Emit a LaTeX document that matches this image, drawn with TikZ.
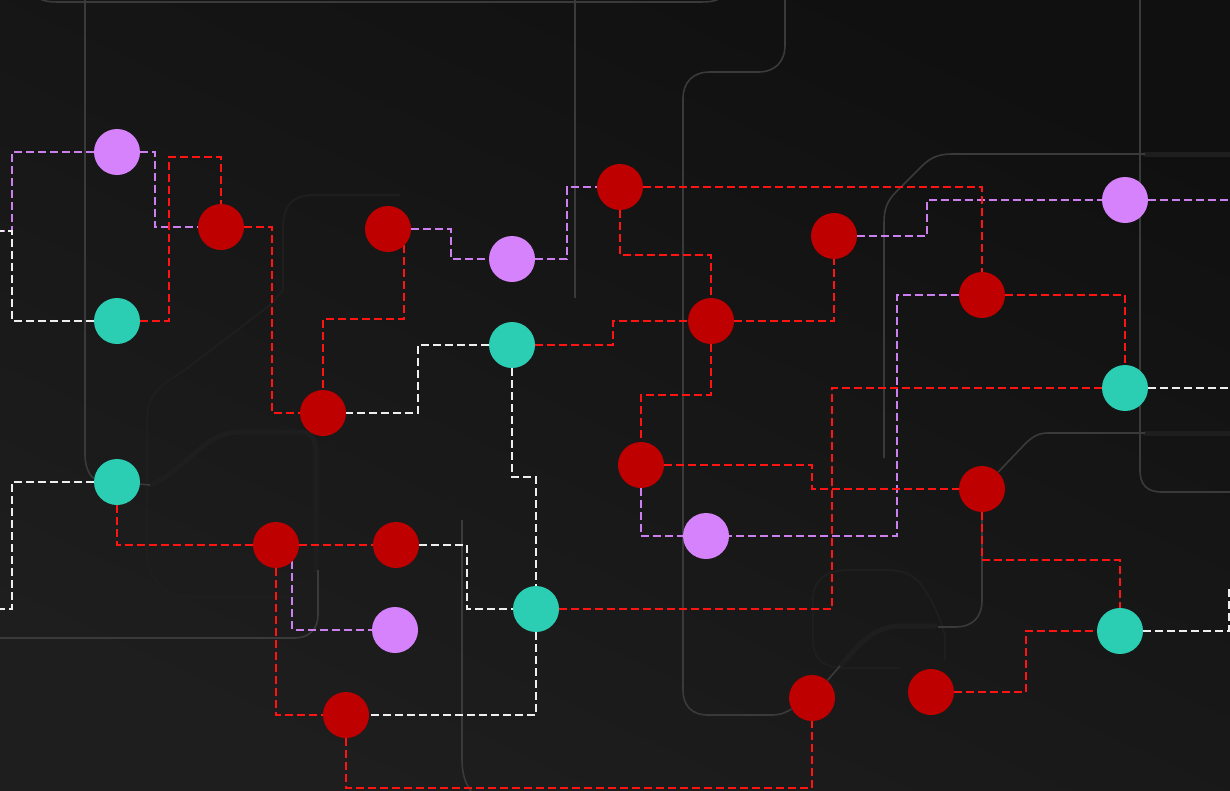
\documentclass[tikz,border=0pt]{standalone}
\usetikzlibrary{calc}
\pgfdeclarelayer{bg}
\pgfdeclarelayer{wires}
\pgfsetlayers{bg,wires,main}
\definecolor{nodered}{HTML}{BF0000}
\definecolor{nodeteal}{HTML}{2BCDB3}
\definecolor{nodepurp}{HTML}{D682FC}
\definecolor{linered}{HTML}{FF1414}
\definecolor{linepurp}{HTML}{CC80F0}
\definecolor{linewhite}{HTML}{EEEEEE}
\definecolor{wiregray}{HTML}{3A3A3A}
\definecolor{wirefaint}{HTML}{1E1E1E}
\definecolor{bgdark}{HTML}{101010}
\definecolor{bglight}{HTML}{1E1E1E}
\tikzset{
  dot/.style={circle, minimum size=46pt, inner sep=0pt, draw=none},
  rednode/.style={dot, fill=nodered},
  tealnode/.style={dot, fill=nodeteal},
  purpnode/.style={dot, fill=nodepurp},
  conn/.style={line width=2pt, dash pattern=on 8pt off 4pt, line join=miter},
  rl/.style={conn, draw=linered},
  pl/.style={conn, draw=linepurp},
  wl/.style={conn, draw=linewhite},
  wire/.style={draw=wiregray, line width=1.6pt},
  glow/.style={draw=wirefaint, line width=5pt, line cap=round},
  faint/.style={draw=wirefaint, line width=2pt}
}
\begin{document}
\begin{tikzpicture}[x=1pt,y=-1pt]
\useasboundingbox (0,0) rectangle (1230,790);
% nodes
\node[purpnode] (P1) at (117,152) {};
\node[rednode]  (R1) at (221,227) {};
\node[tealnode] (T1) at (117,321) {};
\node[rednode]  (R2) at (388,229) {};
\node[purpnode] (P2) at (512,259) {};
\node[rednode]  (R3) at (620,187) {};
\node[rednode]  (R4) at (834,236) {};
\node[purpnode] (P3) at (1125,200) {};
\node[rednode]  (R5) at (982,295) {};
\node[rednode]  (R6) at (711,321) {};
\node[tealnode] (T2) at (512,345) {};
\node[rednode]  (R7) at (323,413) {};
\node[tealnode] (T3) at (1125,388) {};
\node[rednode]  (R8) at (641,465) {};
\node[tealnode] (T4) at (117,482) {};
\node[rednode]  (R9) at (982,489) {};
\node[rednode]  (R10) at (276,545) {};
\node[rednode]  (R11) at (396,545) {};
\node[purpnode] (P4) at (706,536) {};
\node[tealnode] (T5) at (536,609) {};
\node[purpnode] (P5) at (395,630) {};
\node[tealnode] (T6) at (1120,631) {};
\node[rednode]  (R12) at (346,715) {};
\node[rednode]  (R13) at (812,698) {};
\node[rednode]  (R14) at (931,692) {};
% free ends
\coordinate (eL1) at (0,231);
\coordinate (eL2) at (0,609);
\coordinate (eR1) at (1230,200);
\coordinate (eR2) at (1230,388);
\coordinate (eR3) at (1229,585);

\begin{pgfonlayer}{bg}
  \shade[shading=axis, top color=bgdark, bottom color=bglight, shading angle=-25] (0,0) rectangle (1230,790);
  % faint glow lines
  \draw[glow] (150,485) .. controls (170,478) and (190,455) .. (212,440) .. controls (222,434) and (230,432) .. (245,432) -- (300,432) .. controls (312,432) and (316,440) .. (316,455) -- (316,570);
  \draw[glow] (1145,154) -- (1230,154);
  \draw[glow] (1145,433) -- (1230,433);
  \draw[glow] (840,666) .. controls (855,650) and (868,630) .. (895,626) -- (935,626);
  % faint rounded shapes
  \draw[faint] (400,195) -- (315,195) .. controls (292,195) and (283,205) .. (283,230) -- (283,290) -- (270,305) -- (185,370) .. controls (160,385) and (147,395) .. (147,420) -- (147,550) .. controls (147,580) and (165,597) .. (195,597) -- (290,597);
  \draw[faint] (945,660) -- (945,635) .. controls (940,620) and (935,605) .. (925,590) .. controls (915,575) and (905,570) .. (885,570) -- (850,570) .. controls (825,570) and (813,580) .. (813,600) -- (813,640) .. controls (813,660) and (825,668) .. (845,668) -- (900,668);
\end{pgfonlayer}

\begin{pgfonlayer}{wires}
  % background circuit wires
  \draw[wire] (33,-10) .. controls (38,1) and (45,2) .. (60,2) -- (700,2) .. controls (715,2) and (722,0) .. (726,-10);
  \draw[wire] (85,-2) -- (85,455) .. controls (85,470) and (92,478) .. (T4);
  \draw[wire] (T4) -- (150,485);
  \draw[wire] (318,570) -- (318,615) .. controls (318,630) and (308,638) .. (295,638) -- (-2,638);
  \draw[wire] (575,-2) -- (575,298);
  \draw[wire] (785,-2) -- (785,45) .. controls (785,62) and (775,72) .. (758,72) -- (710,72) .. controls (693,72) and (683,82) .. (683,99) -- (683,690) .. controls (683,706) and (692,715) .. (708,715) -- (772,715) .. controls (782,715) and (788,711) .. (R13);
  \draw[wire] (R13) -- (840,666);
  \draw[wire] (462,520) -- (462,760) .. controls (462,775) and (466,785) .. (472,792);
  \draw[wire] (884,458) -- (884,222) .. controls (884,208) and (888,200) .. (896,192) -- (922,166) .. controls (930,158) and (938,154) .. (952,154) -- (1145,154);
  \draw[wire] (1140,-2) -- (1140,470) .. controls (1140,485) and (1147,492) .. (1162,492) -- (1232,492);
  \draw[wire] (R9) -- (1025,444) .. controls (1032,437) and (1038,433) .. (1048,433) -- (1145,433);
  \draw[wire] (R9) -- (982,600) .. controls (982,618) and (972,627) .. (955,627) -- (938,627);

  % purple connectors
  \draw[pl] (P1) -- (12,152) -- (12,231) -- (eL1);
  \draw[pl] (P1) -- (155,152) -- (155,227) -- (R1);
  \draw[pl] (R2) -- (451,229) -- (451,259) -- (P2);
  \draw[pl] (P2) -- (567,259) -- (567,187) -- (R3);
  \draw[pl] (R4) -- (927,236) -- (927,200) -- (P3);
  \draw[pl] (P3) -- (eR1);
  \draw[pl] (R5) -- (897,295) -- (897,536) -- (P4);
  \draw[pl] (R8) -- (641,536) -- (P4);
  \draw[pl] (R10.-45) -- (R10.-45 |- P5) -- (P5);

  % white connectors
  \draw[wl] (T1) -- (12,321) -- (12,231) -- (eL1);
  \draw[wl] (T4) -- (12,482) -- (12,609) -- (eL2);
  \draw[wl] (T2) -- (418,345) -- (418,413) -- (R7);
  \draw[wl] (T2) -- (512,477) -- (536,477) -- (T5);
  \draw[wl] (R11) -- (467,545) -- (467,609) -- (T5);
  \draw[wl] (T5) -- (536,715) -- (R12);
  \draw[wl] (T3) -- (eR2);
  \draw[wl] (T6) -- (1229,631) -- (eR3);

  % red connectors
  \draw[rl] (T1) -- (169,321) -- (169,157) -- (221,157) -- (R1);
  \draw[rl] (R1) -- (272,227) -- (272,413) -- (R7);
  \draw[rl] (R2.-45) -- (R2.-45 |- 0,319) -- (323,319) -- (R7);
  \draw[rl] (R3) -- (982,187) -- (R5);
  \draw[rl] (R3) -- (620,255) -- (711,255) -- (R6);
  \draw[rl] (T2) -- (613,345) -- (613,321) -- (R6);
  \draw[rl] (R6) -- (834,321) -- (R4);
  \draw[rl] (R6) -- (711,395) -- (641,395) -- (R8);
  \draw[rl] (R5) -- (1125,295) -- (T3);
  \draw[rl] (T3) -- (832,388) -- (832,609) -- (T5);
  \draw[rl] (R8) -- (812,465) -- (812,489) -- (R9);
  \draw[rl] (R9) -- (982,560) -- (1120,560) -- (T6);
  \draw[rl] (T4) -- (117,545) -- (R10);
  \draw[rl] (R10) -- (R11);
  \draw[rl] (R10) -- (276,715) -- (R12);
  \draw[rl] (R12) -- (346,788) -- (812,788) -- (R13);
  \draw[rl] (R14) -- (1026,692) -- (1026,631) -- (T6);
\end{pgfonlayer}
\end{tikzpicture}
\end{document}
